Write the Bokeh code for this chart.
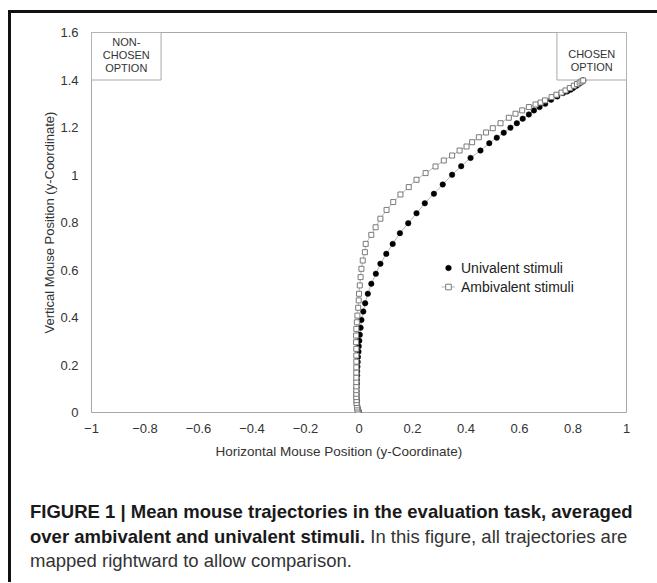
from bokeh.plotting import figure
from bokeh.models import (Range1d, FixedTicker, Legend, LegendItem, ColumnDataSource,
                          Title, Div)
from bokeh.layouts import column
from bokeh.embed import file_html
from bokeh.resources import INLINE
from bokeh.core.properties import value

# ---------------- data ----------------
uni_x = [0.000, -0.001, -0.003, -0.005, -0.006, -0.007, -0.008, -0.008, -0.009, -0.009,
         -0.009, -0.009, -0.008, -0.008, -0.007, -0.007, -0.006, -0.005, -0.004, -0.002,
         -0.001, 0.001, 0.003, 0.006, 0.009, 0.016, 0.023, 0.033, 0.046, 0.063,
         0.080, 0.102, 0.126, 0.153, 0.184, 0.215, 0.246, 0.280, 0.313, 0.348,
         0.382, 0.417, 0.454, 0.487, 0.515, 0.541, 0.566, 0.590, 0.612, 0.635,
         0.654, 0.675, 0.696, 0.718, 0.741, 0.763, 0.778, 0.791, 0.800, 0.810,
         0.818, 0.825, 0.830, 0.834, 0.837, 0.838]
uni_y = [0.000, 0.004, 0.009, 0.015, 0.022, 0.030, 0.040, 0.051, 0.063, 0.076,
         0.090, 0.105, 0.121, 0.138, 0.156, 0.174, 0.193, 0.213, 0.234, 0.256,
         0.279, 0.302, 0.327, 0.357, 0.390, 0.425, 0.460, 0.500, 0.542, 0.584,
         0.626, 0.668, 0.710, 0.755, 0.797, 0.839, 0.881, 0.921, 0.960, 1.001,
         1.037, 1.072, 1.103, 1.134, 1.157, 1.178, 1.199, 1.218, 1.237, 1.255,
         1.272, 1.286, 1.300, 1.317, 1.331, 1.345, 1.352, 1.359, 1.366, 1.374,
         1.380, 1.386, 1.391, 1.394, 1.397, 1.398]

amb_x = [0.000, -0.002, -0.004, -0.006, -0.007, -0.008, -0.009, -0.009, -0.010, -0.010,
         -0.010, -0.010, -0.010, -0.010, -0.010, -0.010, -0.010, -0.010, -0.010,
         -0.011, -0.011, -0.010, -0.008, -0.006, -0.003, -0.001, 0.000, 0.003,
         0.006, 0.009, 0.014, 0.022, 0.025, 0.046, 0.062, 0.080, 0.103, 0.128,
         0.155, 0.186, 0.215, 0.249, 0.286, 0.317, 0.348, 0.376, 0.402, 0.423,
         0.448, 0.475, 0.500, 0.529, 0.560, 0.585, 0.610, 0.635, 0.660, 0.679,
         0.695, 0.720, 0.738, 0.757, 0.772, 0.788, 0.803, 0.815, 0.825, 0.832, 0.838]
amb_y = [0.000, 0.003, 0.007, 0.013, 0.021, 0.030, 0.040, 0.052, 0.065, 0.079,
         0.094, 0.110, 0.128, 0.147, 0.168, 0.190, 0.214, 0.240, 0.268,
         0.296, 0.324, 0.352, 0.380, 0.408, 0.441, 0.472, 0.500, 0.535,
         0.570, 0.605, 0.640, 0.675, 0.710, 0.748, 0.780, 0.816, 0.853, 0.886,
         0.918, 0.949, 0.980, 1.008, 1.036, 1.061, 1.082, 1.103, 1.120, 1.138,
         1.159, 1.179, 1.197, 1.218, 1.241, 1.258, 1.272, 1.286, 1.297, 1.305,
         1.314, 1.328, 1.338, 1.347, 1.356, 1.366, 1.376, 1.383, 1.389, 1.394, 1.398]

x_ticks = [-1, -0.8, -0.6, -0.4, -0.2, 0, 0.2, 0.4, 0.6, 0.8, 1]
x_tick_labels = ["\u22121", "\u22120.8", "\u22120.6", "\u22120.4", "\u22120.2", "0",
                 "0.2", "0.4", "0.6", "0.8", "1"]
y_ticks = [0, 0.2, 0.4, 0.6, 0.8, 1.0, 1.2, 1.4, 1.6]
y_tick_labels = ["0", "0.2", "0.4", "0.6", "0.8", "1", "1.2", "1.4", "1.6"]

box_left = [-1.0, 0.74]
box_right = [-0.74, 1.0]
box_bottom = [1.4, 1.4]
box_top = [1.6, 1.6]
box_text = ["NON-\nCHOSEN\nOPTION", "CHOSEN\nOPTION"]

caption_bold = ["FIGURE 1 | Mean mouse trajectories in the evaluation task, averaged",
                "over ambivalent and univalent stimuli."]
caption_normal = ["In this figure, all trajectories are",
                  "mapped rightward to allow comparison."]

# ---------------- layout (page px) ----------------
W, H = 638, 467
OX, OY = 11, 13                      # canvas origin on page
FL, FR, FT, FB = 91, 626, 32, 412    # plot frame on page
FONT = "Liberation Sans"

p = figure(width=W, height=H, output_backend="svg", toolbar_location=None,
           x_range=Range1d(-1, 1), y_range=Range1d(0, 1.6),
           min_border_left=FL - OX, min_border_right=W - (FR - OX),
           min_border_top=FT - OY, min_border_bottom=H - (FB - OY),
           background_fill_color="white", border_fill_color="white")
p.grid.visible = False
p.outline_line_color = "#a8a8a8"
p.outline_line_width = 1

for ax in (p.xaxis[0], p.yaxis[0]):
    ax.axis_line_color = None
    ax.major_tick_line_color = None
    ax.minor_tick_line_color = None
    ax.major_label_text_font = FONT
    ax.major_label_text_font_size = "13px"
    ax.major_label_text_color = "#333333"
    ax.axis_label_text_font = FONT
    ax.axis_label_text_font_size = "13px"
    ax.axis_label_text_font_style = "normal"
    ax.axis_label_text_color = "#333333"

p.xaxis.ticker = FixedTicker(ticks=x_ticks)
p.xaxis.major_label_overrides = {t: l for t, l in zip(x_ticks, x_tick_labels)}
p.xaxis.major_label_standoff = 5

p.yaxis.ticker = FixedTicker(ticks=y_ticks)
p.yaxis.major_label_overrides = {t: l for t, l in zip(y_ticks, y_tick_labels)}
p.yaxis.major_label_standoff = 7
p.yaxis.axis_label = "Vertical Mouse Position (y-Coordinate)"
p.yaxis.axis_label_standoff = 0

# x-axis title, placed as in the reference
p.add_layout(Title(text="Horizontal Mouse Position (y-Coordinate)", align="left",
                   offset=215 - FL, standoff=12, text_font=FONT, text_font_size="13.5px",
                   text_font_style="normal", text_color="#333333"), "below")

# option boxes
boxes = ColumnDataSource(dict(left=box_left, right=box_right, bottom=box_bottom, top=box_top,
                              text=box_text,
                              cx=[(a + b) / 2 for a, b in zip(box_left, box_right)],
                              yoff=[3, 15]))
p.quad(left="left", right="right", bottom="bottom", top="top", source=boxes,
       fill_color="white", line_color="#a8a8a8", line_width=1)
p.text(x="cx", y="top", text="text", source=boxes, text_align="center",
       text_baseline="top", text_font=value(FONT), text_font_size="11px",
       text_color="#333333", text_line_height=1.1, y_offset="yoff")

# trajectories
uni_line = p.line(uni_x, uni_y, line_color="#b5b5b5", line_width=1)
uni_sc = p.scatter(uni_x, uni_y, marker="circle", size=5.5, fill_color="black",
                   line_color="black", line_width=0.5)
amb_line = p.line(amb_x, amb_y, line_color="#b5b5b5", line_width=1)
amb_sc = p.scatter(amb_x, amb_y, marker="square", size=5, fill_color="white",
                   line_color="#7a7a7a", line_width=1)

legend = Legend(items=[LegendItem(label="Univalent stimuli", renderers=[uni_sc]),
                       LegendItem(label="Ambivalent stimuli", renderers=[amb_line, amb_sc])],
                location=(350, 117), glyph_width=14, glyph_height=17, label_height=17,
                spacing=2, padding=0, margin=0, label_standoff=6,
                border_line_color=None, background_fill_alpha=0,
                label_text_font=FONT, label_text_font_size="14px", label_text_color="#222222")
p.add_layout(legend, "center")

# caption below the chart
cap_html = (
    '<div style="font-family:\'Liberation Sans\',Arial,sans-serif;font-size:18.5px;'
    'line-height:24.5px;color:#333333;white-space:nowrap;padding:15px 0 0 14px;">'
    f'<b style="color:#1a1a1a">{caption_bold[0]}</b><br>'
    f'<b style="color:#1a1a1a">{caption_bold[1]}</b> {caption_normal[0]}<br>'
    f'{caption_normal[1]}</div>'
)
caption = Div(text=cap_html, width=W, height=92, styles={"overflow": "hidden"})

layout = column(p, caption, spacing=0,
                styles={"border-left": "3px solid #111", "border-top": "3px solid #111",
                        "margin-left": "8px", "margin-top": "10px", "overflow": "hidden"})

open("out.html", "w").write(file_html(layout, INLINE))
